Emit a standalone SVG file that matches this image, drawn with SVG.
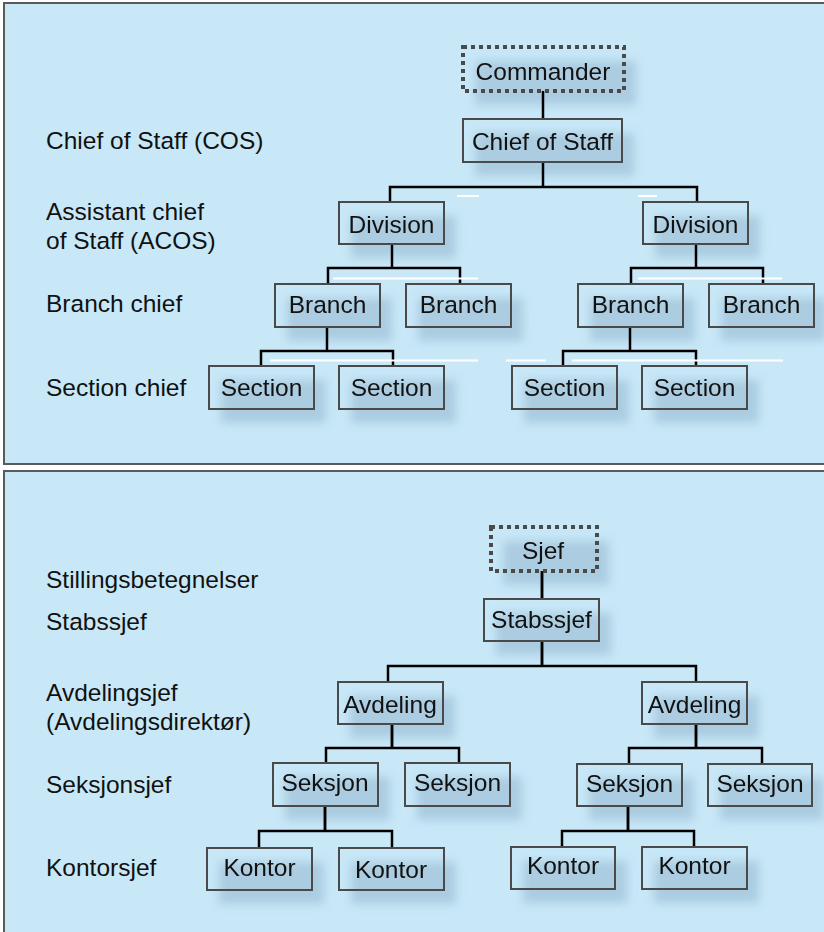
<svg xmlns="http://www.w3.org/2000/svg" width="824" height="932" viewBox="0 0 824 932">
<style>
.panel{fill:#c8e8f8;stroke:#5a5a5a;stroke-width:2}
.box{fill:none;stroke:#4a4a4a;stroke-width:2}
.dot{fill:none;stroke:#4a4a4a;stroke-width:4;stroke-dasharray:4 4}
.sh{fill:#8fb2c9;opacity:0.5}
.t{font-family:"Liberation Sans",Arial,Helvetica,sans-serif;font-size:24.5px;fill:#111}
.m{text-anchor:middle}
.c{fill:none;stroke:#000;stroke-width:2.5}
.w{stroke:#fff;stroke-width:2}
</style>
<defs>
<filter id="blur" x="-30%" y="-30%" width="160%" height="160%"><feGaussianBlur stdDeviation="5"/></filter>
</defs>
<rect x="0" y="0" width="824" height="932" fill="#fff"/>
<rect class="panel" x="4" y="3" width="830" height="461"/>
<rect class="panel" x="4" y="471" width="830" height="470"/>

<g id="labels" class="t">
<text x="46" y="149">Chief of Staff (COS)</text>
<text x="46" y="220">Assistant chief</text>
<text x="46" y="249">of Staff (ACOS)</text>
<text x="46" y="312">Branch chief</text>
<text x="46" y="396">Section chief</text>
<text x="46" y="588">Stillingsbetegnelser</text>
<text x="46" y="630">Stabssjef</text>
<text x="46" y="701">Avdelingsjef</text>
<text x="46" y="730">(Avdelingsdirektør)</text>
<text x="46" y="793">Seksjonsjef</text>
<text x="46" y="876">Kontorsjef</text>
</g>

<g id="shadows" filter="url(#blur)">
<rect class="sh" x="475" y="61" width="161" height="44"/>
<rect class="sh" x="475" y="133" width="159" height="43"/>
<rect class="sh" x="351" y="216" width="105" height="42"/>
<rect class="sh" x="655" y="216" width="105" height="42"/>
<rect class="sh" x="287" y="298" width="105" height="43"/>
<rect class="sh" x="418" y="298" width="105" height="43"/>
<rect class="sh" x="590" y="298" width="105" height="43"/>
<rect class="sh" x="721" y="298" width="105" height="43"/>
<rect class="sh" x="221" y="380" width="105" height="43"/>
<rect class="sh" x="351" y="380" width="105" height="43"/>
<rect class="sh" x="524" y="380" width="105" height="43"/>
<rect class="sh" x="654" y="380" width="105" height="43"/>
<rect class="sh" x="503" y="541" width="106" height="44"/>
<rect class="sh" x="496" y="613" width="115" height="42"/>
<rect class="sh" x="350" y="696" width="105" height="42"/>
<rect class="sh" x="654" y="696" width="105" height="42"/>
<rect class="sh" x="285" y="777" width="105" height="43"/>
<rect class="sh" x="417" y="777" width="105" height="43"/>
<rect class="sh" x="589" y="778" width="105" height="42"/>
<rect class="sh" x="720" y="778" width="104" height="42"/>
<rect class="sh" x="219" y="862" width="105" height="42"/>
<rect class="sh" x="351" y="862" width="105" height="42"/>
<rect class="sh" x="523" y="861" width="104" height="42"/>
<rect class="sh" x="654" y="861" width="105" height="42"/>
</g>

<g id="connectors">
<path class="c" d="M543 91V119M543 162V187M390 201V187H697V202M392 244V268M328 284V268H460V284M696 244V268M631 284V268H763V284M327 327V351M261 366V351H393V366M630 327V351M563 366V351H696V366"/>
<path class="c" d="M542 571V599M542 642V666M388 682V666H696V682M392 724V748M326 763V748H459V763M696 724V748M629 764V748H762V764M325 806V831M259 848V831H392V848M628 806V831M562 847V831H694V847"/>
<path class="c" stroke-width="3.5" d="M542 571V599M542 642V666M392 724V748M696 724V748M325 806V831M628 806V831"/>
</g>

<g id="marks" class="w">
<line x1="457" y1="196" x2="479" y2="196"/>
<line x1="638" y1="196" x2="657" y2="196"/>
<line x1="333" y1="278.5" x2="478" y2="278.5"/>
<line x1="638" y1="278.5" x2="782" y2="278.5"/>
<line x1="270" y1="360.5" x2="478" y2="360.5"/>
<line x1="506" y1="360.5" x2="546" y2="360.5"/>
<line x1="572" y1="360.5" x2="783" y2="360.5"/>
</g>

<g id="commander"><rect class="dot" x="463" y="47" width="161" height="44"/><text class="t m" x="543" y="80">Commander</text></g>
<g id="chief-of-staff"><rect class="box" x="463" y="119" width="159" height="43"/><text class="t m" x="542.5" y="150">Chief of Staff</text></g>
<g id="division-1"><rect class="box" x="339" y="202" width="105" height="42"/><text class="t m" x="391.5" y="233">Division</text></g>
<g id="division-2"><rect class="box" x="643" y="202" width="105" height="42"/><text class="t m" x="695.5" y="233">Division</text></g>
<g id="branch-1"><rect class="box" x="275" y="284" width="105" height="43"/><text class="t m" x="327.5" y="313">Branch</text></g>
<g id="branch-2"><rect class="box" x="406" y="284" width="105" height="43"/><text class="t m" x="458.5" y="313">Branch</text></g>
<g id="branch-3"><rect class="box" x="578" y="284" width="105" height="43"/><text class="t m" x="630.5" y="313">Branch</text></g>
<g id="branch-4"><rect class="box" x="709" y="284" width="105" height="43"/><text class="t m" x="761.5" y="313">Branch</text></g>
<g id="section-1"><rect class="box" x="209" y="366" width="105" height="43"/><text class="t m" x="261.5" y="396">Section</text></g>
<g id="section-2"><rect class="box" x="339" y="366" width="105" height="43"/><text class="t m" x="391.5" y="396">Section</text></g>
<g id="section-3"><rect class="box" x="512" y="366" width="105" height="43"/><text class="t m" x="564.5" y="396">Section</text></g>
<g id="section-4"><rect class="box" x="642" y="366" width="105" height="43"/><text class="t m" x="694.5" y="396">Section</text></g>

<g id="sjef"><rect class="dot" x="491" y="527" width="106" height="44"/><text class="t m" x="543" y="559">Sjef</text></g>
<g id="stabssjef"><rect class="box" x="484" y="599" width="115" height="42"/><text class="t m" x="541.5" y="628">Stabssjef</text></g>
<g id="avdeling-1"><rect class="box" x="338" y="682" width="105" height="42"/><text class="t m" x="390" y="713">Avdeling</text></g>
<g id="avdeling-2"><rect class="box" x="642" y="682" width="105" height="42"/><text class="t m" x="694.5" y="713">Avdeling</text></g>
<g id="seksjon-1"><rect class="box" x="273" y="763" width="105" height="43"/><text class="t m" x="325" y="791">Seksjon</text></g>
<g id="seksjon-2"><rect class="box" x="405" y="763" width="105" height="43"/><text class="t m" x="457.5" y="791">Seksjon</text></g>
<g id="seksjon-3"><rect class="box" x="577" y="764" width="105" height="42"/><text class="t m" x="629.5" y="792">Seksjon</text></g>
<g id="seksjon-4"><rect class="box" x="708" y="764" width="104" height="42"/><text class="t m" x="760" y="792">Seksjon</text></g>
<g id="kontor-1"><rect class="box" x="207" y="848" width="105" height="42"/><text class="t m" x="259.5" y="876">Kontor</text></g>
<g id="kontor-2"><rect class="box" x="339" y="848" width="105" height="42"/><text class="t m" x="391" y="878">Kontor</text></g>
<g id="kontor-3"><rect class="box" x="511" y="847" width="104" height="42"/><text class="t m" x="563" y="874">Kontor</text></g>
<g id="kontor-4"><rect class="box" x="642" y="847" width="105" height="42"/><text class="t m" x="694.5" y="874">Kontor</text></g>
</svg>
